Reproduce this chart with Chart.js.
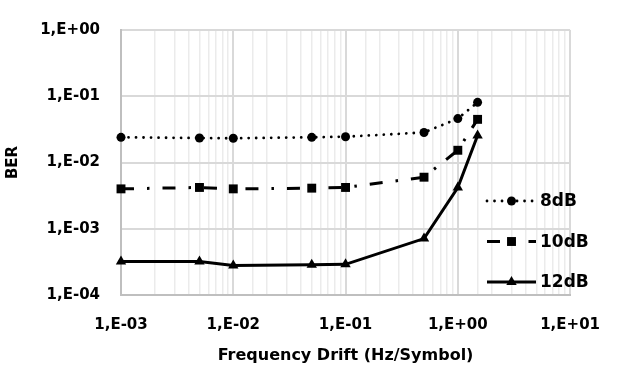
<!DOCTYPE html>
<html>
<head>
<meta charset="utf-8">
<script src="https://cdn.jsdelivr.net/npm/chart.js"></script>
<style>
  html, body { margin: 0; padding: 0; background: #ffffff; }
  #wrap { width: 621px; height: 374px; }
</style>
</head>
<body>
<div id="wrap"><canvas id="berChart" width="621" height="374"></canvas></div>
<script>
// frequency drift (Hz/Symbol)
const drift = [0.001, 0.005, 0.01, 0.05, 0.1, 0.5, 1, 1.5];
// BER per SNR
const ber8dB = [0.0240, 0.0234, 0.0232, 0.0240, 0.0245, 0.0284, 0.046, 0.081];
const ber10dB = [0.0040, 0.0042, 0.0040, 0.0041, 0.0042, 0.0060, 0.0153, 0.0448];
const ber12dB = [0.00032, 0.00032, 0.00028, 0.000285, 0.00029, 0.00071, 0.0042, 0.0255];
const seriesNames = ['8dB', '10dB', '12dB'];
const xRange = [0.001, 10];
const yRange = [0.0001, 1];

const fontName = "'DejaVu Sans', sans-serif";

function toPoints(values) {
    return drift.map((x, i) => ({ x: x, y: values[i] }));
}

function isDecade(v) {
    const e = Math.log10(v);
    return Math.abs(e - Math.round(e)) < 1e-6;
}

function decadeLabel(v) {
    if (!isDecade(v)) return '';
    const e = Math.round(Math.log10(v));
    return '1,E' + (e < 0 ? '-' : '+') + String(Math.abs(e)).padStart(2, '0');
}

// x gets light minor lines, y only the decades
function gridColor(minor) {
    return (ctx) => {
        if (!ctx.tick) return '#d9d9d9';
        return isDecade(ctx.tick.value) ? '#d9d9d9' : minor;
    };
}

function gridWidth(ctx) {
    if (!ctx.tick) return 2;
    return isDecade(ctx.tick.value) ? 2 : 1.5;
}

// legend drawn inside the plot, line sample + marker like the original
const insideLegend = {
    id: 'insideLegend',
    afterDraw(chart) {
        const ctx = chart.ctx;
        const x0 = 487, x1 = 536, rowY = [201, 241.5, 282];
        chart.data.datasets.forEach((ds, i) => {
            const y = rowY[i];
            ctx.save();
            ctx.strokeStyle = ds.borderColor;
            ctx.lineWidth = ds.borderWidth;
            ctx.lineCap = ds.borderCapStyle || 'butt';
            ctx.setLineDash(ds.borderDash || []);
            ctx.beginPath();
            ctx.moveTo(x0, y);
            ctx.lineTo(x1, y);
            ctx.stroke();
            ctx.setLineDash([]);
            ctx.fillStyle = ds.pointBackgroundColor;
            ctx.strokeStyle = ds.pointBorderColor;
            Chart.helpers.drawPoint(ctx, {
                pointStyle: ds.pointStyle,
                radius: ds.pointRadius,
                rotation: 0,
                borderWidth: 0
            }, (x0 + x1) / 2, y);
            ctx.fillStyle = '#000000';
            ctx.font = 'bold 17px ' + fontName;
            ctx.textBaseline = 'middle';
            ctx.textAlign = 'left';
            ctx.fillText(ds.label, 540, y + 1);
            ctx.restore();
        });
    }
};

const chartConfig = {
    type: 'line',
    data: {
        datasets: [
            {
                label: seriesNames[0],
                data: toPoints(ber8dB),
                borderColor: '#000000',
                borderWidth: 2.8,
                borderDash: [0.01, 7.5],
                borderCapStyle: 'round',
                pointStyle: 'circle',
                pointRadius: 4.5,
                pointBorderWidth: 0,
                pointBackgroundColor: '#000000',
                pointBorderColor: '#000000',
                clip: false
            },
            {
                label: seriesNames[1],
                data: toPoints(ber10dB),
                borderColor: '#000000',
                borderWidth: 3,
                borderDash: [13, 13, 2.5, 13],
                pointStyle: 'rect',
                pointRadius: 6.3,
                pointBorderWidth: 0,
                pointBackgroundColor: '#000000',
                pointBorderColor: '#000000',
                clip: false
            },
            {
                label: seriesNames[2],
                data: toPoints(ber12dB),
                borderColor: '#000000',
                borderWidth: 3,
                pointStyle: 'triangle',
                pointRadius: 6,
                pointBorderWidth: 0,
                pointBackgroundColor: '#000000',
                pointBorderColor: '#000000',
                clip: false
            }
        ]
    },
    options: {
        responsive: false,
        animation: false,
        layout: { padding: { top: 17, right: 30, left: 0, bottom: 0 } },
        scales: {
            x: {
                type: 'logarithmic',
                min: xRange[0],
                max: xRange[1],
                afterFit(scale) { scale.height = 79; },
                grid: { color: gridColor('#ebebeb'), lineWidth: gridWidth, drawTicks: false },
                border: { color: '#bfbfbf', width: 2 },
                ticks: {
                    autoSkip: false,
                    maxRotation: 0,
                    padding: 21,
                    color: '#000000',
                    font: { family: fontName, size: 15, weight: 'bold' },
                    callback: (v) => decadeLabel(v)
                },
                title: {
                    display: true,
                    text: 'Frequency Drift (Hz/Symbol)',
                    color: '#000000',
                    font: { family: fontName, size: 16, weight: 'bold' },
                    padding: { top: 0, bottom: 9 }
                }
            },
            y: {
                type: 'logarithmic',
                min: yRange[0],
                max: yRange[1],
                afterFit(scale) { scale.width = 121; },
                grid: { color: gridColor('rgba(0,0,0,0)'), lineWidth: gridWidth, drawTicks: false },
                border: { color: '#bfbfbf', width: 2 },
                ticks: {
                    autoSkip: false,
                    padding: 21,
                    color: '#000000',
                    font: { family: fontName, size: 15, weight: 'bold' },
                    callback: (v) => decadeLabel(v)
                },
                title: {
                    display: true,
                    text: 'BER',
                    color: '#000000',
                    font: { family: fontName, size: 15, weight: 'bold' },
                    padding: { top: 4, bottom: 0 }
                }
            }
        },
        plugins: {
            legend: { display: false },
            tooltip: { enabled: false }
        }
    },
    plugins: [insideLegend]
};

new Chart(document.getElementById('berChart').getContext('2d'), chartConfig);
</script>
</body>
</html>
